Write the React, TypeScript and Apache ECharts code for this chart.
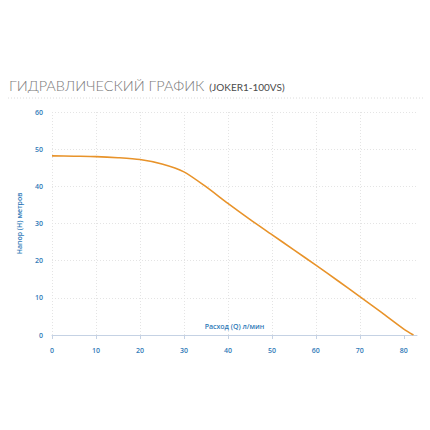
import React, { useEffect, useRef } from "react";
import * as echarts from "echarts";

const flowQ = [0, 5, 10, 15, 20, 25, 30, 35, 40, 45, 50, 55, 60, 65, 70, 75, 80, 82.2];
const headH = [48.2, 48.1, 48.0, 47.7, 47.2, 46.0, 43.9, 39.9, 35.4, 31.1, 27.0, 22.9, 18.8, 14.6, 10.3, 6.0, 1.6, 0];
const xTicks = [0, 10, 20, 30, 40, 50, 60, 70, 80];
const titleMain = "ГИДРАВЛИЧЕСКИЙ ГРАФИК";
const titleModel = "(JOKER1-100VS)";
const xName = "Расход (Q) л/мин";
const yName = "Напор (H) метров";

const BLUE = "#2f7ab8";

export default function App() {
  const ref = useRef<HTMLDivElement>(null);
  useEffect(() => {
    if (!ref.current) return;
    const chart = echarts.init(ref.current, null, { renderer: "svg" });
    chart.setOption({
      animation: false,
      backgroundColor: "#fff",
      title: {
        left: 4,
        top: 71,
        text: `{a|${titleMain}} {b|${titleModel}}`,
        textStyle: {
          rich: {
            a: { fontFamily: "Lato", fontWeight: 300, fontSize: 14.5, color: "#7a7a7a" },
            b: { fontFamily: "Lato", fontWeight: 400, fontSize: 10, color: "#4a4a4a", padding: [3, 0, 0, 0] },
          },
        },
      },
      graphic: [
        {
          type: "line",
          shape: { x1: 8, y1: 98, x2: 424, y2: 98 },
          style: { stroke: "#dcdcdc", lineWidth: 1, lineDash: [1, 2] },
        },
      ],
      grid: { left: 52, right: 13, top: 112, bottom: 95 },
      xAxis: {
        type: "value",
        min: 0,
        max: 83,
        interval: 10,
        name: xName,
        nameLocation: "middle",
        nameGap: -9,
        nameTextStyle: { color: BLUE, fontSize: 7, fontFamily: "Open Sans", fontWeight: 600, verticalAlign: "middle" },
        axisLine: { lineStyle: { color: "#c5d2e4", width: 1 } },
        axisTick: { show: true, customValues: xTicks, length: 4, lineStyle: { color: "#c5d2e4" } },
        axisLabel: { customValues: xTicks, color: BLUE, fontSize: 7, fontFamily: "Open Sans", fontWeight: 600, margin: 12 },
        splitLine: { show: true, showMaxLine: false, lineStyle: { color: "#e4e4e4", type: [1, 2] } },
      },
      yAxis: {
        type: "value",
        min: 0,
        max: 60,
        interval: 10,
        name: yName,
        nameLocation: "middle",
        nameRotate: 90,
        nameGap: 29,
        nameTextStyle: { color: BLUE, fontSize: 7, fontFamily: "Open Sans", fontWeight: 600 },
        axisLine: { show: false },
        axisTick: { show: false },
        axisLabel: { color: BLUE, fontSize: 7, fontFamily: "Open Sans", fontWeight: 600, margin: 9 },
        splitLine: { show: true, lineStyle: { color: "#e4e4e4", type: [1, 2] } },
      },
      series: [
        {
          type: "line",
          data: flowQ.map((q, i) => [q, headH[i]]),
          smooth: 0.25,
          showSymbol: false,
          lineStyle: { color: "#e8932a", width: 1.6 },
        },
      ],
    });
    return () => chart.dispose();
  }, []);
  return <div ref={ref} style={{ position: "fixed", left: 0, top: 0, width: 430, height: 430 }} />;
}
